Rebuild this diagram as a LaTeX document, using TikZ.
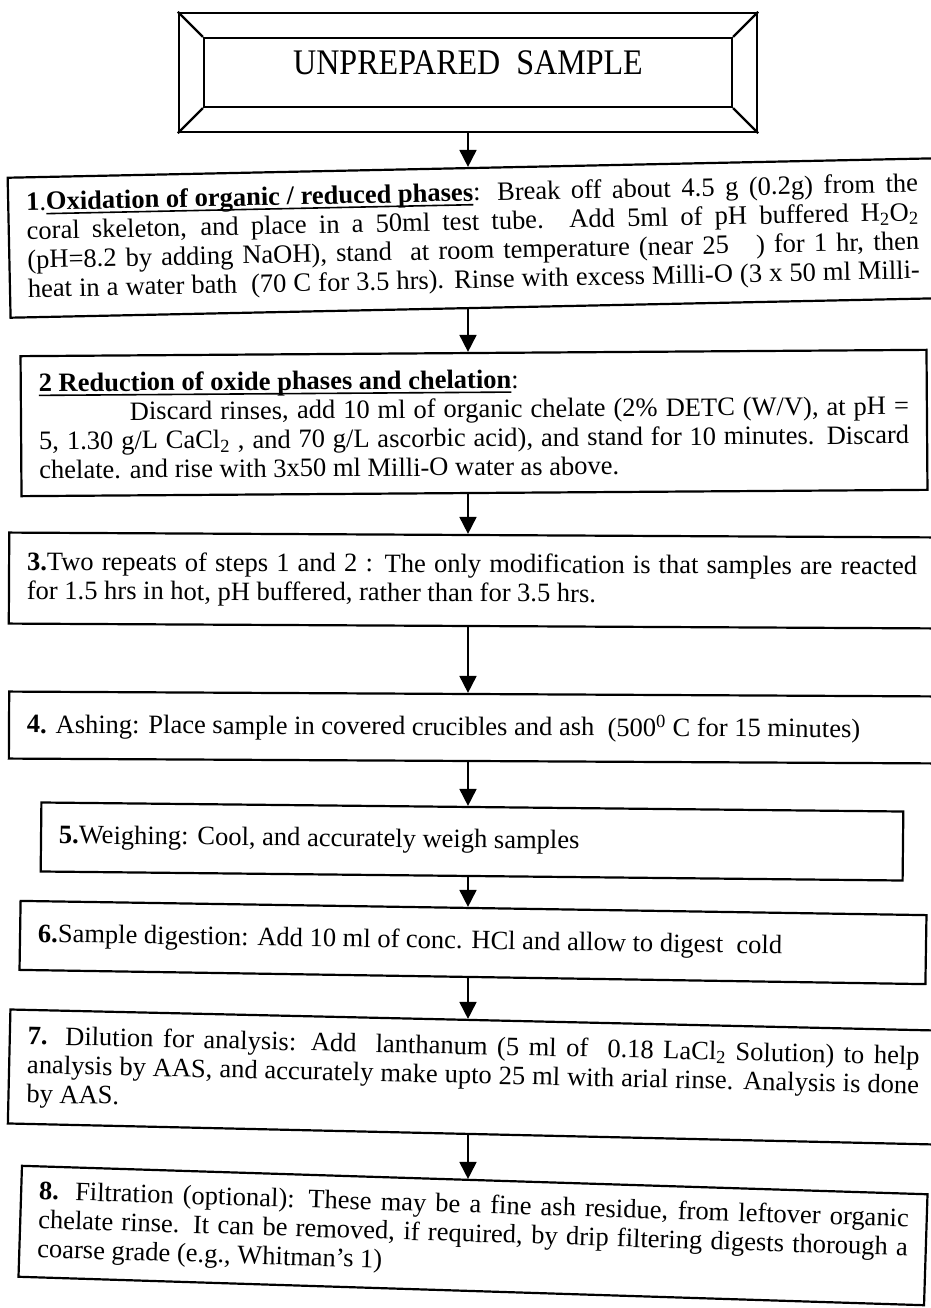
\documentclass[tikz,border=0pt]{standalone}
\usepackage{fontspec}
\setmainfont{Liberation Serif}
\newfontfamily\titlefont{Liberation Serif}[FakeStretch=0.89]
\usetikzlibrary{arrows.meta,fit}

% a line spread out to the full text width
\newcommand{\fullline}[1]{%
  {\spaceskip=0pt\xspaceskip=0pt\makebox[\linewidth][s]{#1}}}
% a heavy underline
\newcommand{\heavyul}[1]{%
  \setbox0\hbox{#1}\rlap{\rule[-4.5pt]{\wd0}{1.6pt}}\box0}

\tikzset{
  stepbox/.style={
    draw,
    line width=2.2pt,
    inner xsep=18pt,
    inner ysep=0pt,
    align=justify,
    anchor=center,
    font=\fontsize{26.5}{29}\selectfont,
    execute at begin node={\spaceskip=0pt\xspaceskip=0pt}
  },
  titlebox/.style={
    draw,
    line width=2.2pt,
    minimum width=528pt,
    minimum height=69pt,
    text height=24pt,
    text depth=20pt,
    font=\titlefont\fontsize{36}{40}\selectfont
  },
  flow/.style={
    line width=1.8pt,
    -{Triangle[length=17pt,width=17pt]}
  }
}

\begin{document}
\begin{tikzpicture}[x=1pt,y=-1pt]

  % Marco de la hoja
  \useasboundingbox (0,0) rectangle (930,1308);

  % Eje de las flechas
  \coordinate (spine) at (468,0);

  % Caja del titulo
  \node[titlebox] (title) at (468,72.5)
    {UNPREPARED\ \ SAMPLE};
  \node[
    draw,
    line width=2.2pt,
    fit=(title),
    inner sep=24pt
  ] (titleframe) {};
  \draw[line width=2.2pt]
    (titleframe.north west) -- (title.north west)
    (titleframe.north east) -- (title.north east)
    (titleframe.south west) -- (title.south west)
    (titleframe.south east) -- (title.south east);

  % Paso 1
  \node[stepbox, text width=892pt, minimum height=140pt, rotate=1.2]
    (s1) at (473,238) {%
    \fullline{\textbf{1}.\heavyul{\textbf{Oxidation of organic / reduced phases}} : Break off about 4.5 g (0.2g) from the}\\
    \fullline{coral skeleton, and place in a 50ml test tube. Add 5ml of pH buffered H\textsubscript{2}O\textsubscript{2}}\\
    \fullline{(pH=8.2 by adding NaOH), stand \ at room temperature (near 25 \ \ ) for 1 hr, then}\\
    \fullline{heat in a water bath \ (70 C for 3.5 hrs). Rinse with excess Milli-O (3 x 50 ml Milli-}};

  % Paso 2
  \node[stepbox, text width=870pt, minimum height=140pt, rotate=0.4]
    (s2) at (474,423) {%
    \heavyul{\textbf{2 Reduction of oxide phases and chelation}}:\\
    \fullline{\hspace*{91pt}Discard rinses, add 10 ml of organic chelate (2\% DETC (W/V), at pH =}\\
    \fullline{5, 1.30 g/L CaCl\textsubscript{2} , and 70 g/L ascorbic acid), and stand for 10 minutes. Discard}\\
    chelate. and rise with 3x50 ml Milli-O water as above.};

  % Paso 3
  \node[stepbox, text width=890pt, minimum height=91pt, rotate=-0.3]
    (s3) at (472,580.5) {%
    \fullline{\textbf{3.}Two repeats of steps 1 and 2 : The only modification is that samples are reacted}\\
    for 1.5 hrs in hot, pH buffered, rather than for 3.5 hrs.};

  % Paso 4
  \node[stepbox, text width=892pt, minimum height=67pt, rotate=-0.3]
    (s4) at (473,727.5)
    {\textbf{4.} Ashing: Place sample in covered crucibles and ash \ (500\textsuperscript{0} C for 15 minutes)};

  % Paso 5
  \node[stepbox, text width=826pt, minimum height=69pt, rotate=-0.6]
    (s5) at (472,841.5)
    {\textbf{5.}Weighing: Cool, and accurately weigh samples};

  % Paso 6
  \node[stepbox, text width=870pt, minimum height=69pt, rotate=-0.9]
    (s6) at (473,942.5)
    {\textbf{6.}Sample digestion: Add 10 ml of conc. HCl and allow to digest \ cold};

  % Paso 7
  \node[stepbox, text width=892pt, minimum height=114pt, rotate=-1.3]
    (s7) at (473,1077) {%
    \fullline{\textbf{7.} Dilution for analysis: Add \ lanthanum (5 ml of \ 0.18 LaCl\textsubscript{2} Solution) to help}\\
    \fullline{analysis by AAS, and accurately make upto 25 ml with arial rinse. Analysis is done}\\
    by AAS.};

  % Paso 8
  \node[stepbox, text width=870pt, minimum height=111pt, rotate=-1.8]
    (s8) at (473,1235.5) {%
    \fullline{\textbf{8.} Filtration (optional): These may be a fine ash residue, from leftover organic}\\
    \fullline{chelate rinse. It can be removed, if required, by drip filtering digests thorough a}\\
    coarse grade (e.g., Whitman's 1)};

  % Flechas
  \draw[flow] (titleframe.south) -- (titleframe.south |- s1.north);
  \draw[flow] (s1.south -| spine) -- (s2.north -| spine);
  \draw[flow] (s2.south -| spine) -- (s3.north -| spine);
  \draw[flow] (s3.south -| spine) -- (s4.north -| spine);
  \draw[flow] (s4.south -| spine) -- (s5.north -| spine);
  \draw[flow] (s5.south -| spine) -- (s6.north -| spine);
  \draw[flow] (s6.south -| spine) -- (s7.north -| spine);
  \draw[flow] (s7.south -| spine) -- (s8.north -| spine);

\end{tikzpicture}
\end{document}
